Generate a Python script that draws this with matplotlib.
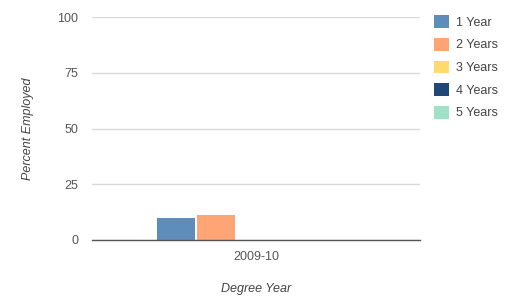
import matplotlib
matplotlib.use("Agg")
import matplotlib.pyplot as plt
from matplotlib.patches import Patch

plt.rcParams["font.family"] = ["Liberation Sans", "DejaVu Sans"]

categories = ["2009-10"]
series_names = ["1 Year", "2 Years", "3 Years", "4 Years", "5 Years"]
series_values = [[10], [11], [0], [0], [0]]
colors = ["#5f8dbb", "#ffa474", "#ffdb6e", "#1f4877", "#9ee0c8"]
yticks = [0, 25, 50, 75, 100]

W, H = 507, 296
fig = plt.figure(figsize=(W/100, H/100), dpi=100)
ax = fig.add_axes([92/W, 1-240/H, (420-92)/W, (240-17)/H])

bw = 0.122
n = len(series_names)
for i, (name, vals, c) in enumerate(zip(series_names, series_values, colors)):
    xs = [j + (i - (n-1)/2) * bw for j in range(len(categories))]
    ax.bar(xs, vals, width=bw*0.97, color=c, edgecolor="none", zorder=2)

ax.set_xlim(-0.5, len(categories)-0.5)
ax.set_ylim(0, 100)
ax.set_yticks(yticks)
ax.set_xticks(range(len(categories)))
ax.set_xticklabels(categories)
ax.grid(axis="y", color="#d9d9d9", linewidth=1, zorder=0)
for s in ["top", "right", "left"]:
    ax.spines[s].set_visible(False)
ax.spines["bottom"].set_color("#555555")
ax.spines["bottom"].set_linewidth(1)
ax.spines["bottom"].set_zorder(3)
ax.tick_params(length=0, labelsize=9, labelcolor="#555555")
ax.tick_params(axis="y", pad=10)
ax.tick_params(axis="x", pad=8)
ax.set_ylabel("Percent Employed", style="italic", fontsize=9, color="#444444", labelpad=17)
ax.set_xlabel("Degree Year", style="italic", fontsize=9, color="#444444", labelpad=14)

handles = [Patch(facecolor=c, edgecolor="none") for c in colors]
fig.legend(handles, series_names, loc="upper left", bbox_to_anchor=(423/W, 1-4/H),
           frameon=False, fontsize=9, labelcolor="#444444", handlelength=1.2,
           handleheight=1.2, handletextpad=0.5, labelspacing=0.72)

fig.savefig("out.png", dpi=100)
